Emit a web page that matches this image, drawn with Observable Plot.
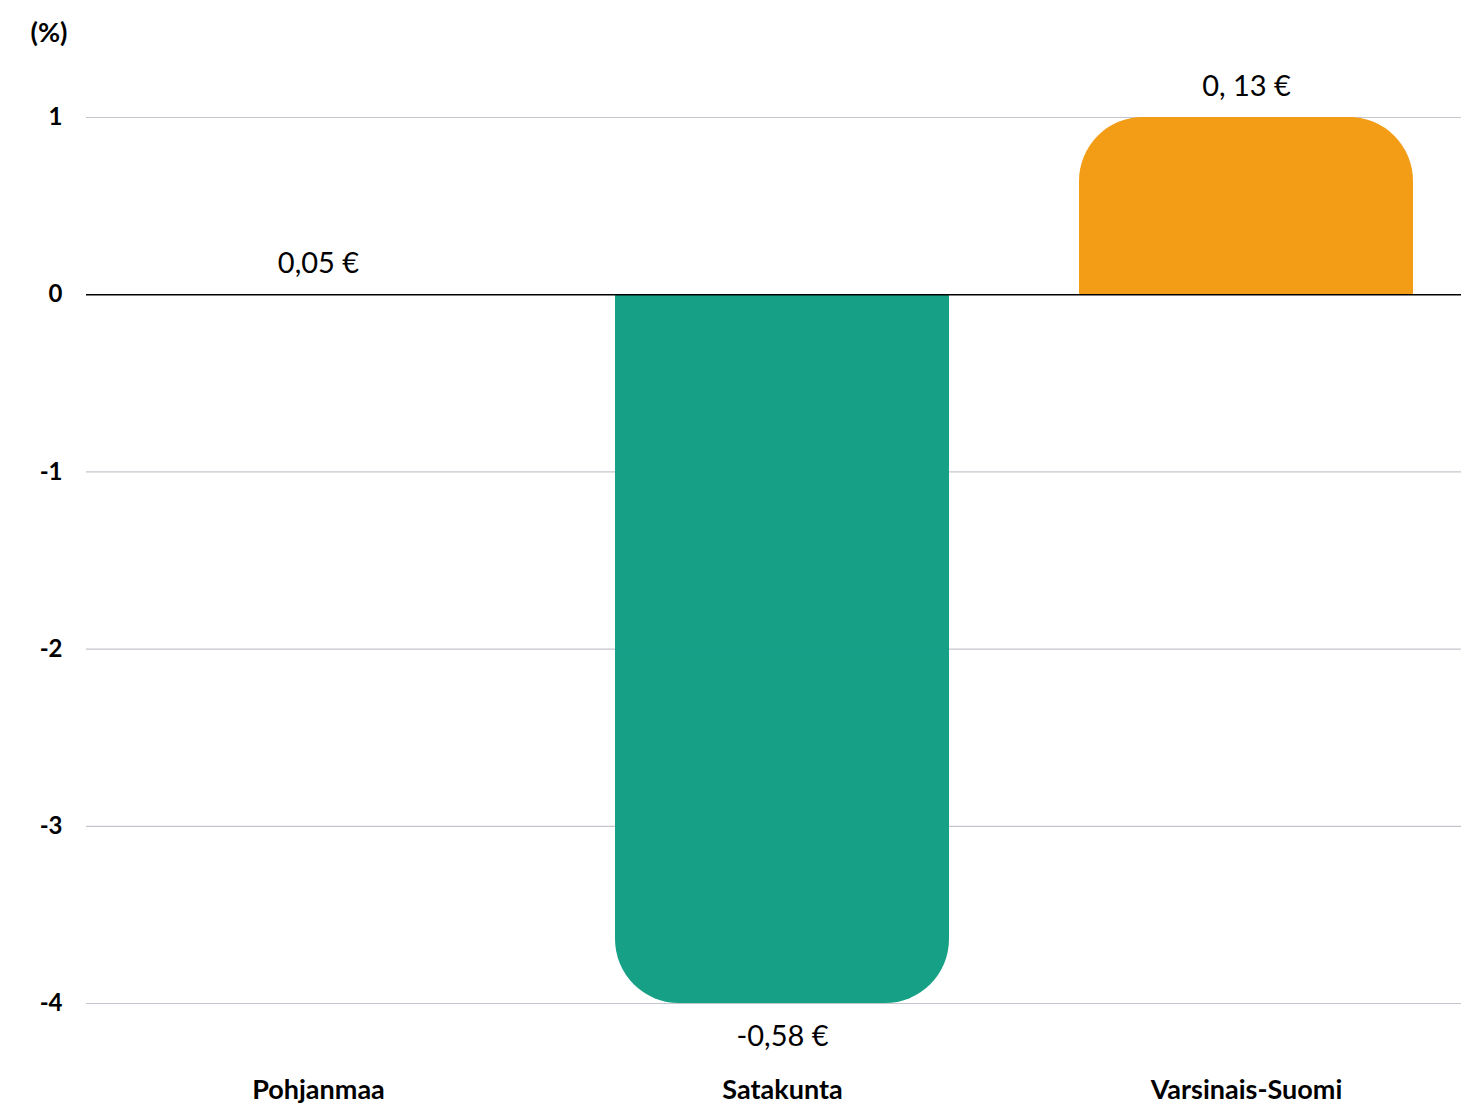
<!DOCTYPE html>
<html>
<head>
<meta charset="utf-8">
<script src="https://cdn.jsdelivr.net/npm/d3@7"></script>
<script src="https://cdn.jsdelivr.net/npm/@observablehq/plot@0.6"></script>
<style>
  html, body { margin: 0; padding: 0; background: #fff; }
  #chart { width: 1461px; height: 1108px; overflow: hidden; }
  svg { font-family: Lato, "Open Sans", sans-serif; }
</style>
</head>
<body>
<div id="chart"></div>
<script>
const regions = ["Pohjanmaa", "Satakunta", "Varsinais-Suomi"];
const values = [0, -4, 1];
const valueLabels = ["0,05 €", "-0,58 €", "0, 13 €"];
const yTicks = [-4, -3, -2, -1, 0, 1];
const unitLabel = "(%)";
const barColors = ["#16a086", "#16a086", "#f39c16"];

const data = regions.map((r, i) => ({region: r, value: values[i], label: valueLabels[i], color: barColors[i]}));

const chart = Plot.plot({
  width: 1461,
  height: 1108,
  marginLeft: 86,
  marginRight: 0,
  marginTop: 117,
  marginBottom: 105,
  style: {fontFamily: "Lato, 'Open Sans', sans-serif", background: "#fff"},
  x: {domain: regions, range: [86, 1478], paddingInner: 0.28, paddingOuter: 0.14},
  y: {domain: [-4, 1]},
  marks: [
    Plot.ruleY(yTicks.filter(d => d !== 0), {stroke: "#c3c6cc", strokeWidth: 1.2}),
    Plot.barY(data, {x: "region", y: "value", fill: "color", rx: 64}),
    Plot.barY(data, {x: "region", y1: 0, y2: d => d.value / 2, fill: "color"}),
    Plot.ruleY([0], {stroke: "#000", strokeWidth: 1.4}),
    Plot.axisY({ticks: yTicks, tickSize: 0, tickPadding: 24, tickFormat: d => String(d), fontSize: 24, fontWeight: "bold", fill: "#000", label: null}),
    Plot.axisX({tickSize: 0, tickPadding: 76, fontSize: 27, fontWeight: "bold", fill: "#000", label: null}),
    Plot.text(data.filter(d => d.value >= 0), {x: "region", y: "value", text: "label", dy: -31, fontSize: 29, fill: "#000"}),
    Plot.text(data.filter(d => d.value < 0), {x: "region", y: "value", text: "label", dy: 33, fontSize: 29, fill: "#000"}),
    Plot.text([unitLabel], {frameAnchor: "top-left", lineAnchor: "middle", dx: -56, dy: -84, text: d => d, fontSize: 27, fontWeight: "bold", fill: "#000"})
  ]
});
document.getElementById("chart").appendChild(chart);
</script>
</body>
</html>
